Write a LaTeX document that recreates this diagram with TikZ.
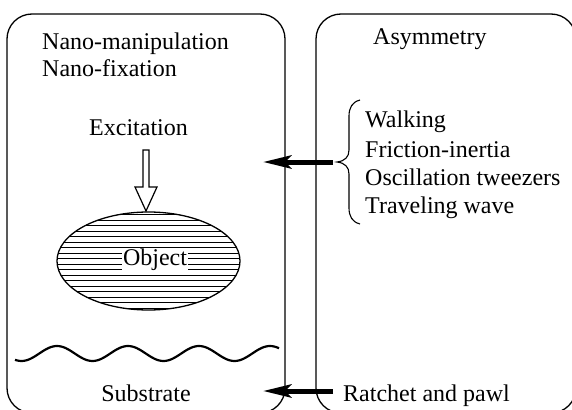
\documentclass[tikz,border=0pt]{standalone}
\usepackage{fontspec}
\setmainfont{Liberation Serif}
\usetikzlibrary{arrows.meta,shapes.geometric}
\begin{document}
\begin{tikzpicture}[x=1pt,y=-1pt,
  every node/.style={font=\fontsize{24}{28}\selectfont, inner sep=0pt},
  panel/.style={line width=1.3pt, rounded corners=25pt},
  push/.style={line width=5pt, -{Stealth[length=28pt,width=13pt,inset=6pt]}},
  hatch/.style={line width=0.9pt},
  label/.style={anchor=base west}]
\useasboundingbox (0,0) rectangle (572,409);
\clip (0,0) rectangle (572,409);

% the two panels, running past the lower edge
\draw[panel] (7,413) rectangle (285,14);
\draw[panel] (316,413) rectangle (576,14);

% left panel texts
\node[label] (manip) at (42,50) {Nano-manipulation};
\node[label] (fix) at (42,77) {Nano-fixation};
\node[label] (exc) at (89,135) {Excitation};

% hollow excitation arrow
\draw[line width=1.2pt, fill=white] (143,150) -- (149,150) -- (149,187) -- (157,187)
  -- (146,211) -- (135,187) -- (143,187) -- cycle;

% hatched object
\begin{scope}
  \clip (148.5,261) ellipse [x radius=91.5, y radius=49];
  \foreach \y in {214.5,220,...,310} \draw[hatch] (50,\y) -- (250,\y);
\end{scope}
\node[ellipse, draw, line width=1.3pt, minimum width=183pt, minimum height=98pt] (blob) at (148.5,261) {};
\node[anchor=base, fill=white, inner xsep=1.5pt] (objlbl) at (155,265) {Object};

% substrate surface
\draw[line width=2.2pt, domain=15:279, samples=120, smooth]
  plot (\x, {353.5 - 7.5*cos((\x-57)*5.0704)});
\node[anchor=base] (sub) at (146,401) {Substrate};

% right panel texts
\node[label] (asym) at (373,45) {Asymmetry};
\node[label] (walk) at (365,128) {Walking};
\node[label] (fric) at (365,157) {Friction-inertia};
\node[label] (osc) at (365,185) {Oscillation tweezers};
\node[label] (trav) at (365,213) {Traveling wave};
\node[label] (ratchet) at (343,401) {Ratchet and pawl};

% brace grouping the four mechanisms
\draw[line width=1.1pt] (360,100) .. controls (352,102) and (349,108) .. (349,116)
  -- (349,150) .. controls (349,157) and (345,161) .. (337,162)
  .. controls (345,163) and (349,167) .. (349,174)
  -- (349,208) .. controls (349,216) and (352,222) .. (360,224);

% arrows into the left panel
\coordinate (bracetip) at (333,162);
\coordinate (intoA) at (263,162);
\coordinate (ratchetend) at (333,391);
\coordinate (intoB) at (263,391);
\draw[push] (bracetip) -- (intoA);
\draw[push] (ratchetend) -- (intoB);
\end{tikzpicture}
\end{document}
